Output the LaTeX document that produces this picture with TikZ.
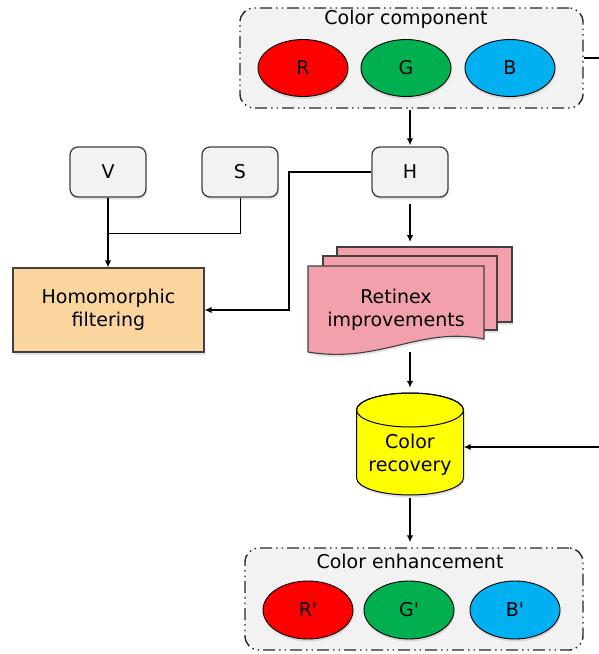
\documentclass[tikz,border=0pt]{standalone}
\usepackage{fontspec}
\setmainfont{DejaVu Sans}
\usetikzlibrary{arrows.meta,shadows,shapes.geometric,calc}
\definecolor{boxgray}{HTML}{F2F2F2}
\definecolor{edgegray}{HTML}{404040}
\definecolor{cred}{HTML}{FF0000}
\definecolor{cgreen}{HTML}{00B050}
\definecolor{cblue}{HTML}{00B0F0}
\definecolor{corange}{HTML}{FBD59E}
\definecolor{cpink}{HTML}{F2A0AC}
\definecolor{cyellow}{HTML}{FFFF00}
\begin{document}
\begin{tikzpicture}[x=1pt,y=-1pt,
  font=\fontsize{19}{23}\selectfont,
  shad/.style={drop shadow={opacity=0.22,shadow xshift=0.6pt,shadow yshift=-2.5pt}},
  group/.style={draw=black!85,fill=boxgray,rounded corners=14pt,line width=1.4pt,
    dash pattern=on 12pt off 4pt on 1.5pt off 4pt on 1.5pt off 4pt,inner sep=0pt},
  oval/.style={ellipse,draw=black,line width=0.9pt,minimum width=90pt,minimum height=57pt,inner sep=0pt,shad},
  chan/.style={rectangle,rounded corners=8pt,draw=edgegray,line width=1.3pt,fill=boxgray,
    minimum width=76pt,minimum height=50pt,shad},
  page/.style={draw=edgegray,line width=1.1pt,fill=cpink,shad},
  arr/.style={line width=1.5pt,-{Latex[length=7pt,width=6.5pt]}},
  thin/.style={line width=1pt}]
\useasboundingbox (0,0) rectangle (598,654);

% Color component group
\node[group,minimum width=343pt,minimum height=100pt] (cc) at (411.5,58) {};
\node (cctitle) at (406,19) {Color component};
\node[oval,fill=cred] (R) at (303,68) {R};
\node[oval,fill=cgreen] (G) at (406,68) {G};
\node[oval,fill=cblue] (B) at (510,68) {B};

% channels
\node[chan] (V) at (108,172) {V};
\node[chan] (S) at (240,172) {S};
\node[chan] (H) at (410,172) {H};

% Homomorphic filtering
\node[rectangle,draw=edgegray,line width=1.2pt,fill=corange,minimum width=191pt,minimum height=84pt,
  align=center,shad] (hom) at (108.5,310) {Homomorphic\\filtering};

% Retinex multi-document
\filldraw[page] (337,247) rectangle (512,322);
\filldraw[page] (323,256) rectangle (497,330);
\filldraw[page] (308,266) -- (484,266) -- (484,339)
  .. controls (420,326) and (380,364) .. (308,352) -- cycle;
\node[align=center] (ret) at (396,310) {Retinex\\improvements};
\coordinate (rettop) at (410,247);
\coordinate (retbot) at (410,346);

% Color recovery cylinder
\filldraw[draw=black,line width=1pt,fill=cyellow,shad]
  (356.5,410) -- (356.5,478) arc[start angle=180,end angle=360,x radius=53.5pt,y radius=17pt]
  -- (463.5,410) arc[start angle=0,end angle=180,x radius=53.5pt,y radius=17pt] -- cycle;
\draw[line width=1pt] (410,410) ellipse[x radius=53.5pt,y radius=17pt];
\node[minimum width=107pt,minimum height=102pt,inner sep=0pt] (rec) at (410,444) {};
\node[align=center] (rectext) at (410,455) {Color\\recovery};

% Color enhancement group
\node[group,minimum width=338pt,minimum height=102pt] (ce) at (414,599) {};
\node (cetitle) at (410,561) {Color enhancement};
\node[oval,fill=cred,minimum height=58pt] (R2) at (308,610) {R\textquotesingle};
\node[oval,fill=cgreen,minimum height=58pt] (G2) at (409,610) {G\textquotesingle};
\node[oval,fill=cblue,minimum height=58pt] (B2) at (515,610) {B\textquotesingle};

% connectors
\draw[arr,shorten <=1pt,shorten >=1pt] (H |- cc.south) -- (H.north);
\draw[arr,shorten <=6pt,shorten >=5pt] (H.south) -- (rettop);
\draw[arr,shorten <=6pt,shorten >=5pt] (retbot) -- (rec.north);
\draw[arr,shorten <=3pt,shorten >=5pt] (rec.south) -- (rec.south |- ce.north);
\draw[arr] (V.south) -- (V.south |- hom.north);
\coordinate (jn) at (108,233);
\draw[thin] (S.south) |- (jn);
\coordinate (hturn) at (289,172);
\draw[arr] (H.west) -- (hturn) |- (hom.east);
\coordinate (r1) at (603,58);
\coordinate (r2) at (603,447);
\draw[line width=1.3pt] (cc.east) -- (r1) -- (r2);
\draw[arr] (r2) -- (rec.east |- r2);
\end{tikzpicture}
\end{document}
